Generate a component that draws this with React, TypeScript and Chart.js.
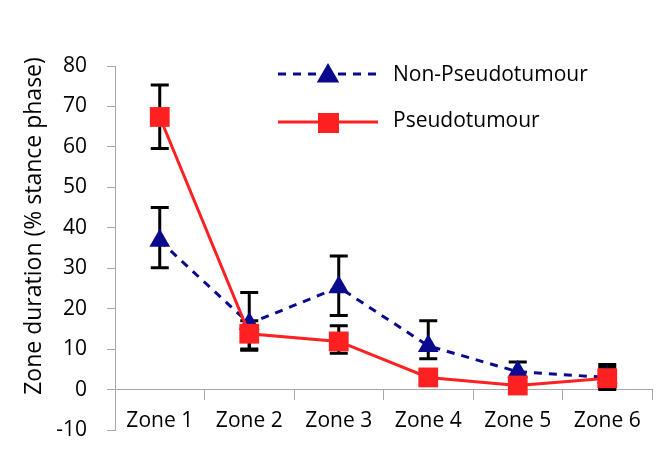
import React, { useEffect, useRef } from "react";
import { Chart, registerables } from "chart.js";

Chart.register(...registerables);

const categories = ["Zone 1", "Zone 2", "Zone 3", "Zone 4", "Zone 5", "Zone 6"];

const nonPseudo = [36.8, 16.3, 25.3, 10.8, 4.4, 3.0];
const nonPseudoLow = [30.1, 10.0, 18.3, 7.6, 2.5, 0.5];
const nonPseudoHigh = [45.0, 24.0, 33.0, 17.0, 6.8, 5.5];

const pseudo = [67.4, 13.8, 11.9, 3.0, 1.0, 2.8];
const pseudoLow = [59.6, 9.7, 9.0, 2.0, 0.0, 0.0];
const pseudoHigh = [75.3, 17.0, 15.8, 4.0, 2.0, 6.2];

const yTicks = { min: -10, max: 80, step: 10 };
const yTitle = "Zone duration (% stance phase)";
const seriesNames = ["Non-Pseudotumour", "Pseudotumour"];

const RED = "#FF2121";
const NAVY = "#0A0A8E";
const GRAY = "#A8A8A8";
const FONT_FAMILY = "'Open Sans', 'Noto Sans', sans-serif";

function drawTriangle(ctx: CanvasRenderingContext2D, x: number, y: number, r: number, color: string) {
  ctx.beginPath();
  ctx.moveTo(x, y - r);
  ctx.lineTo(x + 0.866 * r, y + 0.5 * r);
  ctx.lineTo(x - 0.866 * r, y + 0.5 * r);
  ctx.closePath();
  ctx.fillStyle = color;
  ctx.fill();
}

const errorBarPlugin = {
  id: "errorBars",
  beforeDatasetsDraw(chart: any) {
    const ctx = chart.ctx as CanvasRenderingContext2D;
    const yScale = chart.scales.y;
    const sets = [
      { idx: 1, low: nonPseudoLow, high: nonPseudoHigh },
      { idx: 0, low: pseudoLow, high: pseudoHigh },
    ];
    ctx.save();
    ctx.strokeStyle = "#000";
    ctx.lineWidth = 3;
    sets.forEach((s) => {
      const meta = chart.getDatasetMeta(s.idx);
      meta.data.forEach((pt: any, i: number) => {
        const x = pt.x;
        const yl = yScale.getPixelForValue(s.low[i]);
        const yh = yScale.getPixelForValue(s.high[i]);
        ctx.beginPath();
        ctx.moveTo(x, yl);
        ctx.lineTo(x, yh);
        ctx.moveTo(x - 9, yl);
        ctx.lineTo(x + 9, yl);
        ctx.moveTo(x - 9, yh);
        ctx.lineTo(x + 9, yh);
        ctx.stroke();
      });
    });
    ctx.restore();
  },
};

const decorPlugin = {
  id: "decor",
  afterDraw(chart: any) {
    const ctx = chart.ctx as CanvasRenderingContext2D;
    ctx.save();
    // y title
    ctx.translate(34, 226);
    ctx.rotate(-Math.PI / 2);
    ctx.font = `23px ${FONT_FAMILY}`;
    ctx.fillStyle = "#000";
    ctx.textAlign = "center";
    ctx.textBaseline = "middle";
    ctx.fillText(yTitle, 0, 0);
    ctx.restore();

    // legend
    ctx.save();
    ctx.lineWidth = 3;
    ctx.strokeStyle = NAVY;
    ctx.setLineDash([8, 7]);
    ctx.beginPath();
    ctx.moveTo(278, 74);
    ctx.lineTo(380, 74);
    ctx.stroke();
    ctx.setLineDash([]);
    drawTriangle(ctx, 328, 76, 13, NAVY);

    ctx.strokeStyle = RED;
    ctx.beginPath();
    ctx.moveTo(278, 122);
    ctx.lineTo(378, 122);
    ctx.stroke();
    ctx.fillStyle = RED;
    ctx.fillRect(318, 113, 21, 20);

    ctx.font = `21px ${FONT_FAMILY}`;
    ctx.fillStyle = "#000";
    ctx.textAlign = "left";
    ctx.textBaseline = "middle";
    ctx.fillText(seriesNames[0], 393, 75);
    ctx.fillText(seriesNames[1], 393, 121);
    ctx.restore();
  },
};

export default function App() {
  const ref = useRef<HTMLCanvasElement | null>(null);
  useEffect(() => {
    if (!ref.current) return;
    const font = { family: FONT_FAMILY, size: 21 };
    const chart = new Chart(ref.current, {
      type: "line",
      data: {
        labels: categories,
        datasets: [
          {
            label: seriesNames[1],
            data: pseudo,
            borderColor: RED,
            backgroundColor: RED,
            borderWidth: 3,
            pointStyle: "rect",
            pointRadius: 14,
            pointBackgroundColor: RED,
            pointBorderColor: RED,
            pointBorderWidth: 0,
            order: 0,
            tension: 0,
          },
          {
            label: seriesNames[0],
            data: nonPseudo,
            borderColor: NAVY,
            backgroundColor: NAVY,
            borderWidth: 3,
            borderDash: [8, 7],
            pointStyle: "triangle",
            pointRadius: 12,
            pointBackgroundColor: NAVY,
            pointBorderColor: NAVY,
            pointBorderWidth: 0,
            order: 1,
            tension: 0,
          },
        ],
      },
      options: {
        responsive: false,
        animation: false,
        layout: { padding: { top: 66, bottom: 21, right: 6, left: 0 } },
        plugins: { legend: { display: false }, tooltip: { enabled: false } },
        scales: {
          x: {
            position: { y: 0 } as any,
            offset: true,
            grid: { offset: true, drawOnChartArea: false, drawTicks: true, tickLength: 10, color: GRAY },
            border: { color: GRAY },
            ticks: { padding: 9, color: "#000", font },
            afterFit: (s: any) => {
              s.paddingLeft = 0;
              s.paddingRight = 0;
              s.paddingTop = 0;
              s.paddingBottom = 0;
            },
          },
          y: {
            min: yTicks.min,
            max: yTicks.max,
            ticks: { stepSize: yTicks.step, padding: 20, color: "#000", font },
            grid: { drawOnChartArea: false, tickLength: 8, color: GRAY },
            border: { color: GRAY },
            afterFit: (s: any) => {
              s.width = 115;
              s.paddingLeft = 0;
              s.paddingRight = 0;
              s.paddingTop = 0;
              s.paddingBottom = 0;
            },
          },
        },
      },
      plugins: [errorBarPlugin, decorPlugin],
    });
    return () => chart.destroy();
  }, []);
  return (
    <div style={{ position: "absolute", left: 0, top: 0, width: 666, height: 451, background: "#fff" }}>
      <canvas ref={ref} width={666} height={451} style={{ width: 666, height: 451 }} />
    </div>
  );
}
